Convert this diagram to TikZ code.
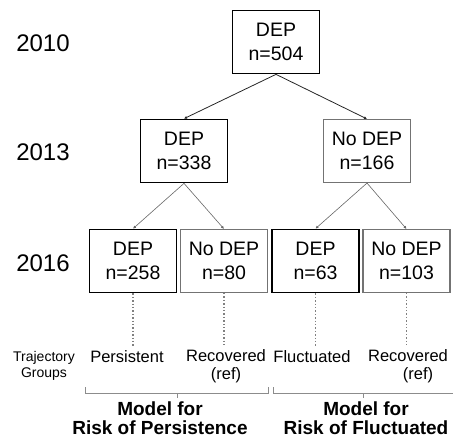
\documentclass[tikz,border=0pt]{standalone}
\usepackage{fontspec}
\setmainfont{Liberation Sans}
\usepackage{tikz}
\usetikzlibrary{arrows.meta}

\begin{document}
\begin{tikzpicture}[x=1pt,y=-1pt,
        box/.style={draw,line width=1.7pt,align=center,minimum width=87pt,minimum height=63pt,inner sep=0pt,font=\fontsize{19.5}{23.5}\selectfont},
        greybox/.style={box,draw=black!55,line width=1.1pt},
        year/.style={font=\fontsize{24}{28}\selectfont},
        group/.style={align=center,font=\fontsize{16.5}{18}\selectfont},
        brace/.style={draw=black!45,line width=0.6pt}]
        \useasboundingbox (0,0) rectangle (453,440);
        % years
        \node[year] (y1) at (43,43) {2010};
        \node[year] (y2) at (43,152) {2013};
        \node[year] (y3) at (43,263) {2016};
        % tree
        \node[box] (top) at (276,42) {DEP\\n=504};
        \node[box] (dep13) at (184,151) {DEP\\n=338};
        \node[greybox] (nodep13) at (367,151) {No DEP\\n=166};
        \node[box] (dep16a) at (133,261) {DEP\\n=258};
        \node[greybox] (nodep16a) at (224,261) {No DEP\\n=80};
        \node[box] (dep16b) at (315.5,261) {DEP\\n=63};
        \node[greybox] (nodep16b) at (406.5,261) {No DEP\\n=103};
        \draw[-{Latex[length=3pt,width=3pt]},black!85,line width=0.8pt] (top.south) -- (dep13.north);
        \draw[-{Latex[length=3pt,width=3pt]},black!85,line width=0.8pt] (top.south) -- (nodep13.north);
        \draw[-{Latex[length=3pt,width=3pt]},black!60,line width=0.6pt] (dep13.south) -- (dep16a.north);
        \draw[-{Latex[length=3pt,width=3pt]},black!60,line width=0.6pt] (dep13.south) -- (nodep16a.north);
        \draw[-{Latex[length=3pt,width=3pt]},black!60,line width=0.6pt] (nodep13.south) -- (dep16b.north);
        \draw[-{Latex[length=3pt,width=3pt]},black!60,line width=0.6pt] (nodep13.south) -- (nodep16b.north);
        % trajectory groups
        \node[align=center,font=\fontsize{14}{16}\selectfont] (traj) at (44,366) {Trajectory\\Groups};
        \node[group] (pers) at (127,357) {Persistent};
        \node[group] (reca) at (226,366) {Recovered\\(ref)};
        \node[group] (fluc) at (312,357) {Fluctuated};
        \node[group] (recb) at (408,366) {Recovered\\\hspace*{20pt}(ref)};
        \coordinate (d1) at (133,347);
        \coordinate (d2) at (224,347);
        \coordinate (d3) at (315.5,347);
        \coordinate (d4) at (406.5,347);
        \draw[dotted,black!50,line width=1.4pt] (dep16a.south) -- (d1);
        \draw[dotted,black!50,line width=1.4pt] (nodep16a.south) -- (d2);
        \draw[dotted,black!50,line width=1.4pt] (dep16b.south) -- (d3);
        \draw[dotted,black!50,line width=1.4pt] (nodep16b.south) -- (d4);
        % models
        \draw[brace] (85,387) -- (85,393) -- (268,393) -- (268,387);
        \draw[brace] (177,393) -- (177,398);
        \draw[brace] (273,387) -- (273,393) -- (455,393);
        \draw[brace] (363,393) -- (363,398);
        \node[align=center,font=\bfseries\fontsize{19}{19.5}\selectfont] (m1) at (160,418) {Model for\\Risk of Persistence};
        \node[align=center,font=\bfseries\fontsize{19}{19.5}\selectfont] (m2) at (366,418) {Model for\\Risk of Fluctuated};
\end{tikzpicture}
\end{document}
